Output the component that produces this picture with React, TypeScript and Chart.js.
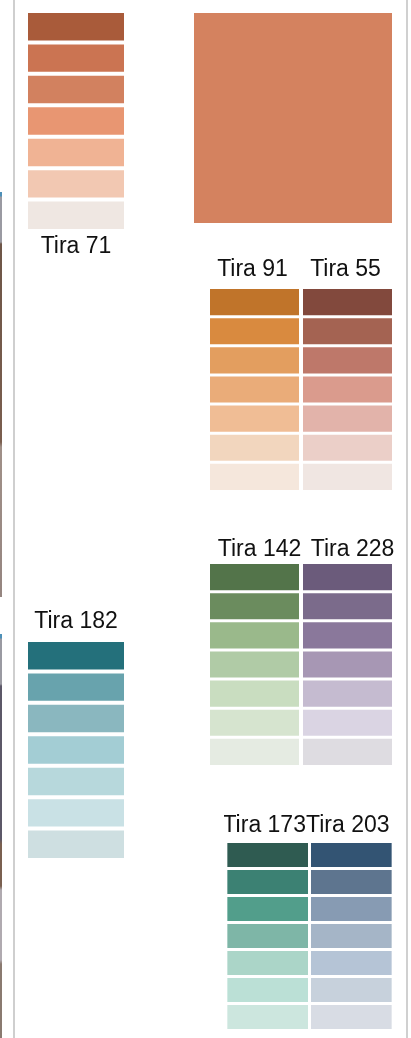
import React, { useEffect, useRef } from "react";
import { Chart, registerables } from "chart.js";

Chart.register(...registerables);

// ---------- data ----------
const shadeLevels = ["1", "2", "3", "4", "5", "6", "7"];
const shadeValues = [1, 1, 1, 1, 1, 1, 1];

const tira71Names = ["Tira 71"];
const tira71Colors = ["#A95B3A", "#CB7452", "#D2815F", "#E89672", "#F0B394", "#F2C8B2", "#EFE7E2"];

const featuredNames = ["Destacado"];
const featuredColors = ["#D4825F"];

const tira91Colors = ["#C0742A", "#D98A3F", "#E39E5F", "#EAAC79", "#F0BD95", "#F2D6BE", "#F5E7DC"];
const tira55Colors = ["#82493D", "#A46352", "#BE786A", "#DA9B8D", "#E2B3AA", "#EBCFC8", "#F0E6E2"];
const pairANames = ["Tira 91", "Tira 55"];

const tira142Colors = ["#53744A", "#6B8C5E", "#9AB98B", "#B0CBA6", "#C9DDC0", "#D6E4CF", "#E5EBE2"];
const tira228Colors = ["#6B5B7B", "#7B6B8B", "#8A789B", "#A797B4", "#C5BBD0", "#DAD4E3", "#DEDCE1"];
const pairBNames = ["Tira 142", "Tira 228"];

const tira182Names = ["Tira 182"];
const tira182Colors = ["#24707B", "#68A3AD", "#8AB7BF", "#A3CDD4", "#B7D8DC", "#C9E1E5", "#CEDFE1"];

const tira173Colors = ["#2F5B51", "#3C8173", "#529E8B", "#7EB6A7", "#ABD5C8", "#BBE0D6", "#CCE6DE"];
const tira203Colors = ["#335473", "#5E758F", "#879BB3", "#A5B5C7", "#B5C4D6", "#C7D1DC", "#D8DCE4"];
const pairCNames = ["Tira 173", "Tira 203"];

// ---------- components ----------
const AXIS_H = 40;
const FONT = "'Liberation Sans', Arial, Helvetica, sans-serif";

type Borders = { top: number; bottom: number; left: number; right: number };

type StripProps = {
  names: string[];
  colors: string[][];
  left: number;
  areaTop: number;
  width: number;
  areaHeight: number;
  borders: Borders;
  labelPos: "top" | "bottom";
  labelPad: number;
  labelOffset: number;
};

function Strip(props: StripProps) {
  const ref = useRef<HTMLCanvasElement | null>(null);
  const { names, colors, left, areaTop, width, areaHeight, borders, labelPos, labelPad, labelOffset } = props;
  const height = areaHeight + AXIS_H;
  const top = labelPos === "top" ? areaTop - AXIS_H : areaTop;

  useEffect(() => {
    if (!ref.current) return;
    const datasets = shadeLevels.map((lvl, i) => ({
      label: lvl,
      data: names.map(() => shadeValues[i]),
      backgroundColor: colors.map((c) => c[i]),
      borderColor: "#ffffff",
      borderWidth: borders,
      borderSkipped: false as const,
      inflateAmount: 0,
      barPercentage: 1,
      categoryPercentage: 1,
      stack: "s",
    }));
    const chart = new Chart(ref.current, {
      type: "bar",
      data: { labels: names, datasets },
      options: {
        animation: false,
        responsive: false,
        devicePixelRatio: 1,
        layout: { padding: 0, autoPadding: false },
        plugins: { legend: { display: false }, tooltip: { enabled: false }, title: { display: false } },
        scales: {
          x: {
            type: "category",
            position: labelPos,
            stacked: true,
            offset: true,
            grid: { display: false, drawTicks: false },
            border: { display: false },
            ticks: {
              color: "#111111",
              font: { family: FONT, size: 23 },
              padding: labelPad,
              labelOffset,
              maxRotation: 0,
              minRotation: 0,
              autoSkip: false,
            },
            afterFit: (s: any) => {
              s.height = AXIS_H;
            },
          },
          y: { display: false, stacked: true, min: 0, max: shadeValues.length, reverse: true },
        },
      } as any,
    });
    return () => chart.destroy();
  }, []);

  return (
    <div style={{ position: "absolute", left, top, width, height }}>
      <canvas ref={ref} width={width} height={height} style={{ display: "block", width, height }} />
    </div>
  );
}

function Featured() {
  const ref = useRef<HTMLCanvasElement | null>(null);
  const left = 194, top = 13, width = 198, height = 210;
  useEffect(() => {
    if (!ref.current) return;
    const chart = new Chart(ref.current, {
      type: "bar",
      data: {
        labels: featuredNames,
        datasets: [
          {
            data: [1],
            backgroundColor: featuredColors,
            borderWidth: 0,
            inflateAmount: 0,
            barPercentage: 1,
            categoryPercentage: 1,
          },
        ],
      },
      options: {
        animation: false,
        responsive: false,
        devicePixelRatio: 1,
        layout: { padding: 0, autoPadding: false },
        plugins: { legend: { display: false }, tooltip: { enabled: false } },
        scales: {
          x: { display: false, offset: true },
          y: { display: false, min: 0, max: 1 },
        },
      } as any,
    });
    return () => chart.destroy();
  }, []);
  return (
    <div style={{ position: "absolute", left, top, width, height }}>
      <canvas ref={ref} width={width} height={height} style={{ display: "block", width, height }} />
    </div>
  );
}

export default function App() {
  useEffect(() => {
    document.body.style.margin = "0";
    document.body.style.background = "#ffffff";
  }, []);

  const b4: Borders = { top: 2, bottom: 2, left: 0, right: 0 };
  return (
    <div style={{ position: "absolute", left: 0, top: 0, width: 411, height: 1038, overflow: "hidden", background: "#ffffff" }}>
      {/* page edge decorations */}
      <div style={{ position: "absolute", left: 0, top: 192, width: 2, height: 405, background: "linear-gradient(#4d90b8 0px, #4d90b8 4px, #9a9aa2 5px, #9a9aa2 50px, #6e5648 52px, #7a5e4e 250px, #a09088 255px, #958580 405px)" }} />
      <div style={{ position: "absolute", left: 0, top: 634, width: 2, height: 404, background: "linear-gradient(#4d90b8 0px, #4d90b8 4px, #9a9aa2 5px, #9a9aa2 50px, #5c5868 52px, #5c5868 205px, #7a6050 210px, #7a6050 252px, #b0aab0 256px, #b0aab0 326px, #8a7a70 330px, #8a7a70 404px)" }} />
      <div style={{ position: "absolute", left: 13, top: 0, width: 2, height: 1038, background: "#cfcfcf" }} />
      <div style={{ position: "absolute", left: 406, top: 0, width: 2, height: 1038, background: "#d0d0d0" }} />

      <Strip names={tira71Names} colors={[tira71Colors]} left={28} areaTop={11} width={96} areaHeight={220}
        borders={b4} labelPos="bottom" labelPad={2} labelOffset={0} />
      <Featured />
      <Strip names={pairANames} colors={[tira91Colors, tira55Colors]} left={208} areaTop={288} width={186} areaHeight={204}
        borders={{ top: 1, bottom: 2, left: 2, right: 2 }} labelPos="top" labelPad={5} labelOffset={-2} />
      <Strip names={pairBNames} colors={[tira142Colors, tira228Colors]} left={208} areaTop={563} width={186} areaHeight={204}
        borders={{ top: 1, bottom: 2, left: 2, right: 2 }} labelPos="top" labelPad={0} labelOffset={5} />
      <Strip names={tira182Names} colors={[tira182Colors]} left={28} areaTop={640} width={96} areaHeight={220}
        borders={b4} labelPos="top" labelPad={5} labelOffset={0} />
      <Strip names={pairCNames} colors={[tira173Colors, tira203Colors]} left={224} areaTop={842} width={172} areaHeight={189}
        borders={{ top: 1, bottom: 2, left: 1, right: 2 }} labelPos="top" labelPad={3} labelOffset={-4} />
    </div>
  );
}
